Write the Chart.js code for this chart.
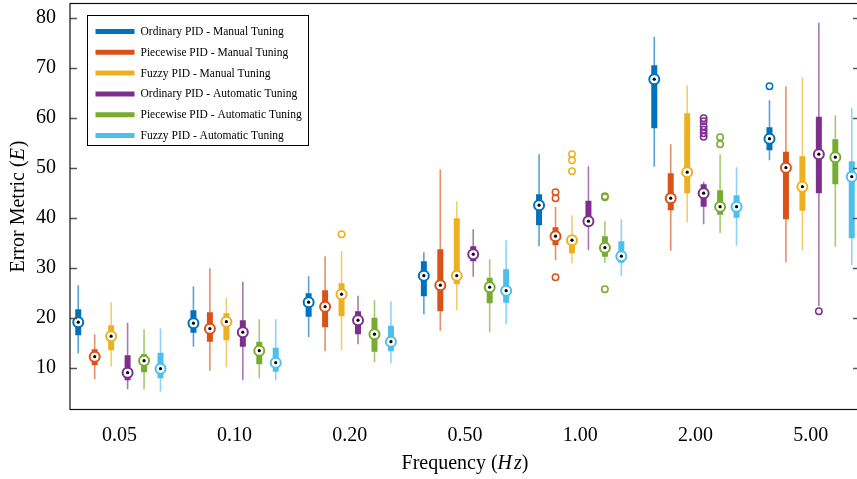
<!DOCTYPE html>
<html lang="en">
<head>
    <meta charset="UTF-8">
    <title>Error Metric x Frequency</title>
    <script src="https://cdn.jsdelivr.net/npm/chart.js"></script>
    <style>
        html, body { margin: 0; padding: 0; background: #fff; overflow: hidden; }
        .grafico { position: relative; width: 862px; height: 479px; }
    </style>
</head>
<body>
    <div class="grafico">
        <canvas id="graficoErro"></canvas>
    </div>
<script>

// frequencias testadas (eixo x)
const frequencias = ['0.05', '0.10', '0.20', '0.50', '1.00', '2.00', '5.00'];
const ticksErro = [10, 20, 30, 40, 50, 60, 70, 80];

const nomesSeries = [
    'Ordinary PID - Manual Tuning',
    'Piecewise PID - Manual Tuning',
    'Fuzzy PID - Manual Tuning',
    'Ordinary PID - Automatic Tuning',
    'Piecewise PID - Automatic Tuning',
    'Fuzzy PID - Automatic Tuning'
];
const cores = ['#0072BD', '#D95319', '#EDB120', '#7E2F8E', '#77AC30', '#4DBEEE'];

// cada linha: [bigode inferior, Q1, mediana, Q3, bigode superior], uma por frequencia
const pidComumManual = [
    [12.9, 16.5, 19.1, 21.7, 26.5],
    [14.2, 17.0, 18.9, 21.5, 26.3],
    [16.1, 20.2, 23.1, 24.9, 28.3],
    [20.7, 24.3, 28.4, 31.3, 33.1],
    [34.3, 38.5, 42.5, 44.7, 52.7],
    [50.2, 57.9, 67.7, 70.5, 76.2],
    [51.5, 53.5, 55.8, 58.1, 63.5]
];
const pidPartesManual = [
    [7.7, 10.5, 12.2, 13.7, 16.7],
    [9.4, 15.2, 17.8, 21.1, 29.9],
    [13.3, 18.1, 22.2, 25.5, 32.3],
    [17.4, 21.3, 26.5, 33.7, 49.7],
    [31.5, 34.5, 36.3, 38.1, 42.2],
    [33.4, 41.5, 43.9, 48.9, 54.7],
    [31.1, 39.7, 50.0, 53.2, 66.3]
];
const pidFuzzyManual = [
    [10.2, 13.5, 16.3, 18.5, 23.1],
    [10.1, 15.5, 19.2, 20.9, 24.0],
    [13.5, 20.3, 24.7, 26.9, 33.3],
    [21.5, 26.7, 28.4, 39.9, 43.3],
    [30.9, 32.9, 35.5, 36.3, 40.5],
    [39.1, 44.9, 49.1, 60.9, 66.5],
    [33.5, 41.4, 46.2, 52.3, 68.1]
];
const pidComumAuto = [
    [5.7, 7.5, 9.0, 12.5, 19.0],
    [7.5, 14.2, 17.1, 19.5, 27.2],
    [14.7, 16.7, 19.5, 21.3, 24.4],
    [28.2, 31.3, 32.7, 34.3, 37.7],
    [33.5, 38.5, 39.3, 43.4, 50.3],
    [38.7, 42.2, 44.9, 46.7, 47.2],
    [22.3, 44.9, 52.7, 60.2, 79.0]
];
const pidPartesAuto = [
    [5.7, 9.1, 11.4, 12.7, 17.7],
    [7.9, 10.7, 13.4, 15.2, 19.7],
    [11.1, 13.2, 16.7, 20.0, 23.5],
    [17.1, 22.9, 26.1, 28.0, 31.7],
    [31.0, 32.2, 34.0, 36.3, 39.3],
    [36.9, 40.6, 42.2, 45.5, 52.7],
    [34.2, 46.7, 52.1, 55.7, 60.5]
];
const pidFuzzyAuto = [
    [5.2, 7.9, 9.8, 13.0, 17.9],
    [7.5, 9.2, 11.0, 14.0, 19.7],
    [10.9, 13.3, 15.2, 18.4, 23.3],
    [18.7, 23.0, 25.4, 29.7, 35.5],
    [28.3, 31.0, 32.3, 35.3, 39.7],
    [34.4, 40.0, 42.2, 44.5, 50.1],
    [30.5, 35.9, 48.2, 51.3, 61.9]
];

// outliers: [indice da frequencia, valor]
const outComumManual = [[6, 66.3]];
const outPartesManual = [[4, 45.1], [4, 43.9], [4, 28.1]];
const outFuzzyManual = [[2, 36.7], [4, 52.7], [4, 51.5], [4, 49.3]];
const outComumAuto = [[5, 59.9], [5, 59.3], [5, 58.3], [5, 57.6], [5, 56.9], [5, 56.2], [6, 21.3]];
const outPartesAuto = [[4, 44.1], [4, 44.3], [4, 25.7], [5, 56.1], [5, 54.7]];
const outFuzzyAuto = [];

const series = [pidComumManual, pidPartesManual, pidFuzzyManual, pidComumAuto, pidPartesAuto, pidFuzzyAuto];
const outliers = [outComumManual, outPartesManual, outFuzzyManual, outComumAuto, outPartesAuto, outFuzzyAuto];

// 6 caixas por grupo + 1 espaco vazio entre grupos
const porGrupo = 7;

function posicao(grupo, serie) {
    return grupo * porGrupo + serie;
}

function transparente(hex, alfa) {
    const r = parseInt(hex.slice(1, 3), 16);
    const g = parseInt(hex.slice(3, 5), 16);
    const b = parseInt(hex.slice(5, 7), 16);
    return `rgba(${r}, ${g}, ${b}, ${alfa})`;
}

function montarDatasets() {
    let datasets = [];

    series.forEach((dados, j) => {
        let bigodes = [];
        let caixas = [];
        let medianas = [];

        dados.forEach((d, g) => {
            const x = posicao(g, j);
            bigodes.push({ x: x, y: d[0] }, { x: x, y: d[4] }, { x: x, y: null });
            caixas.push({ x: x, y: d[1] }, { x: x, y: d[3] }, { x: x, y: null });
            medianas.push({ x: x, y: d[2] });
        });

        datasets.push({
            label: nomesSeries[j] + ' bigode',
            data: bigodes,
            showLine: true,
            spanGaps: false,
            borderColor: transparente(cores[j], 0.65),
            borderWidth: 1.6,
            borderCapStyle: 'butt',
            pointRadius: 0,
            order: 5
        });
        datasets.push({
            label: nomesSeries[j],
            data: caixas,
            showLine: true,
            spanGaps: false,
            borderColor: cores[j],
            borderWidth: 6,
            borderCapStyle: 'butt',
            pointRadius: 0,
            order: 4
        });
        datasets.push({
            label: nomesSeries[j] + ' mediana',
            data: medianas,
            pointRadius: 5,
            pointBackgroundColor: '#fff',
            pointBorderColor: cores[j],
            pointBorderWidth: 2,
            order: 3
        });
        datasets.push({
            label: nomesSeries[j] + ' centro',
            data: medianas,
            pointRadius: 1.6,
            pointBackgroundColor: '#000',
            pointBorderWidth: 0,
            order: 2
        });
        datasets.push({
            label: nomesSeries[j] + ' outliers',
            data: outliers[j].map(o => ({ x: posicao(o[0], j), y: o[1] })),
            pointRadius: 3.2,
            pointBackgroundColor: 'rgba(255,255,255,0)',
            pointBorderColor: cores[j],
            pointBorderWidth: 1.5,
            order: 3
        });
    });

    return datasets;
}

// moldura em volta da area do grafico e marcas do eixo y para dentro
const moldura = {
    id: 'moldura',
    afterDraw(chart) {
        const ctx = chart.ctx;
        const area = chart.chartArea;
        const escalaY = chart.scales.y;
        ctx.save();
        ctx.strokeStyle = '#555';
        ctx.lineWidth = 1.5;
        ticksErro.forEach(v => {
            const y = Math.round(escalaY.getPixelForValue(v)) + 0.5;
            ctx.beginPath();
            ctx.moveTo(area.left, y);
            ctx.lineTo(area.left + 7, y);
            ctx.moveTo(area.right, y);
            ctx.lineTo(area.right - 7, y);
            ctx.stroke();
        });
        ctx.strokeStyle = '#111';
        ctx.lineWidth = 1.2;
        ctx.strokeRect(area.left, area.top, area.right - area.left, area.bottom - area.top);
        ctx.restore();
    }
};

// titulos dos eixos com a variavel em italico
function textoMisto(ctx, partes, x, y) {
    let larguras = partes.map(p => {
        ctx.font = (p.italico ? 'italic ' : '') + '20px "Liberation Serif"';
        return ctx.measureText(p.texto).width + (p.espaco || 0);
    });
    let total = larguras.reduce((a, b) => a + b, 0);
    let cx = x - total / 2;
    partes.forEach((p, i) => {
        ctx.font = (p.italico ? 'italic ' : '') + '20px "Liberation Serif"';
        ctx.fillText(p.texto, cx, y);
        cx += larguras[i];
    });
}

const titulos = {
    id: 'titulos',
    afterDraw(chart) {
        const ctx = chart.ctx;
        const area = chart.chartArea;
        ctx.save();
        ctx.fillStyle = '#000';
        ctx.textBaseline = 'middle';
        ctx.textAlign = 'left';

        textoMisto(ctx, [
            { texto: 'Frequency (' },
            { texto: 'H', italico: true, espaco: 2 },
            { texto: 'z', italico: true },
            { texto: ')' }
        ], (area.left + area.right) / 2, 464);

        ctx.translate(19, (area.top + area.bottom) / 2);
        ctx.rotate(-Math.PI / 2);
        textoMisto(ctx, [
            { texto: 'Error Metric (' },
            { texto: 'E', italico: true, espaco: 1 },
            { texto: ')' }
        ], 0, 0);
        ctx.restore();
    }
};

// legenda com borda no canto superior esquerdo
const legendaCaixa = {
    id: 'legendaCaixa',
    afterDraw(chart) {
        const ctx = chart.ctx;
        const area = chart.chartArea;
        const x0 = area.left + 17.5;
        const y0 = area.top + 12;
        ctx.save();
        ctx.fillStyle = '#fff';
        ctx.fillRect(x0, y0, 221, 130);
        ctx.strokeStyle = '#000';
        ctx.lineWidth = 1;
        ctx.strokeRect(x0, y0, 221, 130);
        ctx.font = '11.5px "Liberation Serif"';
        ctx.textBaseline = 'middle';
        ctx.textAlign = 'left';
        nomesSeries.forEach((nome, i) => {
            const y = y0 + 16 + i * 20.8;
            ctx.strokeStyle = cores[i];
            ctx.lineWidth = 5;
            ctx.beginPath();
            ctx.moveTo(x0 + 8, y);
            ctx.lineTo(x0 + 47, y);
            ctx.stroke();
            ctx.fillStyle = '#000';
            ctx.fillText(nome, x0 + 53, y + 0.5);
        });
        ctx.restore();
    }
};

// zera o espaco extra que o chart.js reserva para os rotulos das pontas
function ajustarEscala(escala, tamanho) {
    if (escala.isHorizontal()) {
        escala.height = tamanho;
    } else {
        escala.width = tamanho;
    }
    escala.paddingTop = 0;
    escala.paddingBottom = 0;
    escala.paddingLeft = 0;
    escala.paddingRight = 0;
}

function plotarGrafico() {
    const config = {
        type: 'scatter',
        data: { datasets: montarDatasets() },
        options: {
            responsive: true,
            maintainAspectRatio: false,
            animation: false,
            events: [],
            layout: {
                autoPadding: false,
                padding: { top: 3.5, right: 2, left: 0, bottom: 0 }
            },
            plugins: {
                legend: { display: false },
                tooltip: { enabled: false }
            },
            scales: {
                x: {
                    type: 'linear',
                    min: -0.5,
                    max: frequencias.length * porGrupo - 1.5,
                    grid: { display: false, drawTicks: false },
                    border: { display: false },
                    afterBuildTicks: function (escala) {
                        escala.ticks = frequencias.map((f, g) => ({ value: g * porGrupo + 2.5 }));
                    },
                    afterFit: function (escala) { ajustarEscala(escala, 69.5); },
                    ticks: {
                        autoSkip: false,
                        maxRotation: 0,
                        padding: 14,
                        color: '#000',
                        font: { family: '"Liberation Serif"', size: 20 },
                        callback: function (valor, indice) { return frequencias[indice]; }
                    }
                },
                y: {
                    min: 1.64,
                    max: 82.84,
                    grid: { display: false, drawTicks: false },
                    border: { display: false },
                    afterBuildTicks: function (escala) {
                        escala.ticks = ticksErro.map(v => ({ value: v }));
                    },
                    afterFit: function (escala) { ajustarEscala(escala, 70); },
                    ticks: {
                        padding: 14,
                        color: '#000',
                        font: { family: '"Liberation Serif"', size: 20 }
                    }
                }
            }
        },
        plugins: [moldura, titulos, legendaCaixa]
    };

    let graficoErro = new Chart(document.getElementById('graficoErro'), config);
}

plotarGrafico();

</script>
</body>
</html>
